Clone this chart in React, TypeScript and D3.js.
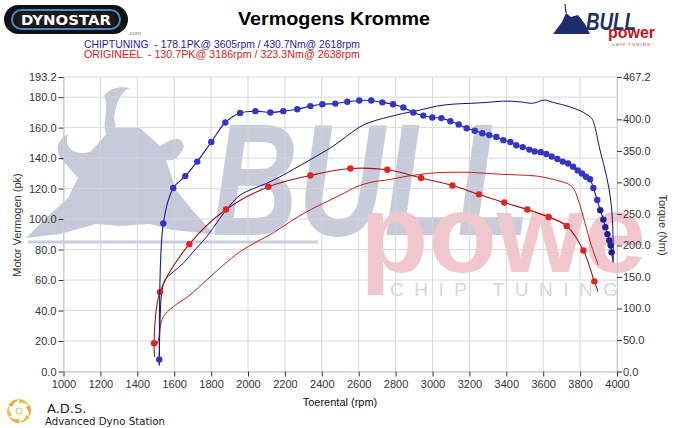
import React, { useEffect, useRef } from 'react';
import * as d3 from 'd3';

// Chiptuning torque (dotted curve), rpm / Nm
const chipTorqueRpm = [1519, 1519, 1541, 1595, 1660, 1725, 1801, 1877, 1957, 2040, 2121, 2191, 2267, 2338, 2403, 2473, 2538, 2603, 2668, 2728, 2786, 2842, 2896, 2950, 2999, 3048, 3097, 3142, 3185, 3229, 3270, 3308, 3346, 3384, 3422, 3454, 3489, 3525, 3554, 3587, 3617, 3646, 3677, 3706, 3735, 3762, 3787, 3810, 3832, 3854, 3872, 3893, 3909, 3926, 3937, 3948, 3958, 3966, 3971, 3979];
const chipTorqueNm = [10, 19, 235, 291, 310, 333, 364, 395, 410, 413, 411, 413, 416, 421, 424, 425, 428, 430, 430, 427, 424, 419, 411, 406, 403, 402, 397, 392, 386, 382, 378, 375, 372, 367, 364, 359, 356, 352, 349, 348, 345, 341, 337, 333, 330, 325, 319, 314, 309, 305, 291, 272, 256, 241, 229, 218, 208, 200, 189, 173];
// undotted points at start / end of the torque traces
const chipTorqueBare = [1, 1];

// Chiptuning power (thin), rpm / pk
const chipPowerRpm = [1519, 1521, 1525, 1530, 1550, 1595, 1649, 1703, 1776, 1848, 1902, 1957, 2029, 2101, 2173, 2246, 2318, 2390, 2462, 2535, 2607, 2661, 2752, 2842, 2932, 3023, 3113, 3203, 3294, 3384, 3474, 3546, 3605, 3655, 3745, 3817, 3863, 3875, 3908, 3944, 3966, 3977, 3980];
const chipPowerPk = [4, 22, 38, 49, 60, 65.4, 71, 78.6, 88.4, 100.5, 109, 115.7, 120, 123.4, 127.7, 132.6, 137.6, 142.6, 147.9, 154.4, 160.5, 163.5, 166.7, 169.3, 171.5, 174.1, 175.4, 175.9, 176.5, 177.4, 176.9, 176, 178.1, 176.5, 173.6, 170, 166, 162.8, 145.2, 127.7, 112.5, 95, 72];

// Origineel torque (dotted), rpm / Nm
const origTorqueRpm = [1494, 1491, 1523, 1682, 1881, 2110, 2338, 2555, 2755, 2938, 3108, 3252, 3389, 3514, 3630, 3727, 3818, 3877, 3897];
const origTorqueNm = [23, 45, 126, 202, 257, 293, 311, 322, 320, 307, 295, 281, 268, 257, 245, 231, 192, 143, 127];
const origTorqueBare = [1, 1];

// Origineel power (thin), rpm / pk
const origPowerRpm = [1508, 1520, 1523, 1541, 1595, 1686, 1776, 1866, 1957, 2047, 2137, 2228, 2318, 2408, 2499, 2589, 2679, 2752, 2842, 2932, 3023, 3113, 3186, 3294, 3384, 3474, 3565, 3655, 3754, 3790, 3827, 3863, 3899];
const origPowerPk = [18, 24, 28.3, 36, 42.5, 50.2, 60, 69.8, 78.6, 85.1, 91, 98.2, 104.8, 110.3, 115.7, 121.2, 124.5, 125.6, 127.7, 129.3, 130.4, 130.7, 130.7, 130, 129.3, 128.9, 128.2, 126, 121.6, 112.5, 97.2, 81.8, 69.8];

const rpmTicks = d3.range(1000, 4001, 200);
const pkTicks = [0, 20, 40, 60, 80, 100, 120, 140, 160, 180, 193.2];
const nmTicks = [0, 50, 100, 150, 200, 250, 300, 350, 400, 467.2];

const legendLines = [
  { text: 'CHIPTUNING  - 178.1PK@ 3605rpm / 430.7Nm@ 2618rpm', color: '#1c1ca8' },
  { text: 'ORIGINEEL  - 130.7PK@ 3186rpm / 323.3Nm@ 2638rpm', color: '#e01818' },
];

const FONT = 'Liberation Sans, Arial, sans-serif';

const App: React.FC = () => {
  const svgRef = useRef<SVGSVGElement>(null);

  useEffect(() => {
    if (!svgRef.current) return;
    const svg = d3.select(svgRef.current);
    svg.selectAll('*').remove();

    const left = 63.5, right = 617, top = 77, bottom = 371.5;
    const x = d3.scaleLinear().domain([1000, 4000]).range([left, right]);
    const yPk = d3.scaleLinear().domain([0, 193.2]).range([bottom, top]);
    const yNm = d3.scaleLinear().domain([0, 467.2]).range([bottom, top]);

    svg.append('rect').attr('width', 694).attr('height', 428).attr('fill', '#fff');

    // ---- watermark (background image in the original)
    svg.append('clipPath').attr('id', 'wmclip')
      .append('rect').attr('x', 20).attr('y', 80).attr('width', 630).attr('height', 230);
    const wm = svg.append('g').attr('clip-path', 'url(#wmclip)');
    wm.append('rect').attr('x', 28).attr('y', 240.5).attr('width', 290).attr('height', 3).attr('fill', '#c9cddb');
    wm.append('path')
      .attr('d', 'M106,134 C102,120 110,106 104,96 C110,88 120,86 130,88 C120,92 116,104 114,118 L117,132 Z')
      .attr('fill', '#c5c9d9');
    wm.append('path')
      .attr('d', 'M64,162 C54,152 56,140 68,134 C64,146 72,156 90,152 L112,128 L140,128 L160,146 C170,140 180,134 184,146 C180,158 172,162 166,160 L176,190 L194,212 L214,234 L172,230 L150,224 L120,226 L96,224 L60,234 L26,238 L46,218 L68,198 L78,178 Z')
      .attr('fill', '#c5c9d9');
    wm.append('text')
      .attr('x', 212).attr('y', 235)
      .attr('font-family', FONT).attr('font-weight', 'bold').attr('font-style', 'italic')
      .attr('font-size', 160).attr('fill', '#c8cbda')
      .attr('textLength', 318).attr('lengthAdjust', 'spacingAndGlyphs')
      .text('BULL');
    wm.append('text')
      .attr('x', 360).attr('y', 272)
      .attr('font-family', FONT).attr('font-weight', 'bold')
      .attr('font-size', 112).attr('fill', '#f2c6cd')
      .text('power');
    wm.append('text')
      .attr('x', 390).attr('y', 296)
      .attr('font-family', FONT)
      .attr('font-size', 19).attr('fill', '#d4d6df')
      .attr('textLength', 228).attr('lengthAdjust', 'spacing')
      .text('CHIP TUNING');

    // ---- grid
    const grid = svg.append('g').attr('stroke', '#d6d6d6').attr('stroke-width', 1).attr('opacity', 0.9);
    rpmTicks.forEach((t) => {
      grid.append('line').attr('x1', x(t)).attr('x2', x(t)).attr('y1', top).attr('y2', bottom);
    });
    pkTicks.forEach((t) => {
      grid.append('line').attr('x1', left).attr('x2', right).attr('y1', yPk(t)).attr('y2', yPk(t));
    });

    // ---- axes
    const styleAxis = (g: d3.Selection<SVGGElement, unknown, null, undefined>) => {
      g.select('.domain').attr('stroke', '#c8c8c8');
      g.selectAll('.tick line').attr('stroke', '#333');
      g.selectAll('.tick text').attr('fill', '#333').attr('font-family', FONT).attr('font-size', 11);
    };
    const gx = svg.append('g').attr('transform', `translate(0,${bottom})`)
      .call(d3.axisBottom(x).tickValues(rpmTicks).tickFormat(d3.format('d')).tickSize(5).tickSizeOuter(0));
    styleAxis(gx);
    gx.selectAll('.tick text').attr('dy', '0.85em').attr('y', 7);
    const gl = svg.append('g').attr('transform', `translate(${left},0)`)
      .call(d3.axisLeft(yPk).tickValues(pkTicks).tickFormat(d3.format('.1f')).tickSize(5).tickSizeOuter(0));
    styleAxis(gl);
    gl.selectAll('.tick text').attr('x', -7);
    const gr = svg.append('g').attr('transform', `translate(${right},0)`)
      .call(d3.axisRight(yNm).tickValues(nmTicks).tickFormat(d3.format('.1f')).tickSize(5).tickSizeOuter(0));
    styleAxis(gr);
    gr.selectAll('.tick text').attr('x', 6);

    // ---- curves
    const line = d3.line<[number, number]>().curve(d3.curveCatmullRom.alpha(0.5));
    const pts = (rpm: number[], v: number[], y: d3.ScaleLinear<number, number>) =>
      rpm.map((r, i) => [x(r), y(v[i])] as [number, number]);

    const thin = (rpm: number[], v: number[], color: string) => {
      svg.append('path').attr('d', line(pts(rpm, v, yPk))).attr('fill', 'none')
        .attr('stroke', color).attr('stroke-width', 1);
    };
    const dotted = (rpm: number[], v: number[], bare: number[], lineColor: string, dotColor: string, endColor: string) => {
      const p = pts(rpm, v, yNm);
      svg.append('path').attr('d', line(p)).attr('fill', 'none')
        .attr('stroke', lineColor).attr('stroke-width', 1.1);
      const dots = p.slice(bare[0], p.length - bare[1]);
      svg.append('g').selectAll('circle').data(dots).join('circle')
        .attr('cx', (d) => d[0]).attr('cy', (d) => d[1]).attr('r', 3.2)
        .attr('fill', (d, i) => (i >= dots.length - 7 ? endColor : dotColor));
    };

    thin(origPowerRpm, origPowerPk, '#c41c1c');
    thin(chipPowerRpm, chipPowerPk, '#10107a');
    dotted(origTorqueRpm, origTorqueNm, origTorqueBare, '#a81212', '#e02424', '#e02424');
    dotted(chipTorqueRpm, chipTorqueNm, chipTorqueBare, '#1c1c8a', '#3535c4', '#1e1e9a');

    // ---- axis titles
    svg.append('text').attr('transform', 'translate(21,225) rotate(-90)').attr('text-anchor', 'middle')
      .attr('font-family', FONT).attr('font-size', 11).attr('fill', '#333').text('Motor Vermogen (pk)');
    svg.append('text').attr('transform', 'translate(659,225) rotate(90)').attr('text-anchor', 'middle')
      .attr('font-family', FONT).attr('font-size', 11).attr('fill', '#333').text('Torque (Nm)');
    svg.append('text').attr('x', 340).attr('y', 406).attr('text-anchor', 'middle')
      .attr('font-family', FONT).attr('font-size', 11).attr('fill', '#111').text('Toerental (rpm)');

    // ---- header
    svg.append('text').attr('x', 334).attr('y', 25).attr('text-anchor', 'middle')
      .attr('font-family', FONT).attr('font-weight', 'bold').attr('font-size', 19).attr('fill', '#000')
      .attr('textLength', 192).attr('lengthAdjust', 'spacingAndGlyphs')
      .text('Vermogens Kromme');
    legendLines.forEach((l, i) => {
      svg.append('text').attr('x', 84).attr('y', 48 + i * 10)
        .attr('font-family', FONT).attr('font-size', 10.5).attr('fill', l.color)
        .attr('textLength', 276).attr('lengthAdjust', 'spacingAndGlyphs')
        .style('white-space', 'pre').text(l.text);
    });

    // Dynostar logo
    svg.append('rect').attr('x', 4).attr('y', 5).attr('width', 124).attr('height', 29).attr('rx', 14.5).attr('fill', '#111');
    svg.append('rect').attr('x', 12).attr('y', 10).attr('width', 108).attr('height', 19).attr('rx', 9.5)
      .attr('fill', 'none').attr('stroke', '#4a86c8').attr('stroke-width', 2);
    svg.append('rect').attr('x', 16).attr('y', 12).attr('width', 100).attr('height', 15).attr('rx', 7.5).attr('fill', '#1a1a1a');
    svg.append('text').attr('x', 66).attr('y', 25).attr('text-anchor', 'middle')
      .attr('font-family', 'DejaVu Sans, sans-serif').attr('font-weight', 'bold').attr('font-size', 14).attr('fill', '#fff')
      .attr('textLength', 90).attr('lengthAdjust', 'spacingAndGlyphs').text('DYNOSTAR');
    svg.append('text').attr('x', 128).attr('y', 35).attr('font-family', FONT).attr('font-size', 6).attr('fill', '#777').text('.com');

    // Bull power logo
    svg.append('path')
      .attr('d', 'M553,34 L562,22 L566,13 L571,17 L578,15 L585,24 L590,34 Z')
      .attr('fill', '#1f2d6e');
    svg.append('line').attr('x1', 566).attr('y1', 13).attr('x2', 565).attr('y2', 4).attr('stroke', '#1f2d6e').attr('stroke-width', 1.2);
    svg.append('text').attr('x', 586).attr('y', 30).attr('font-family', FONT).attr('font-weight', 'bold')
      .attr('font-style', 'italic').attr('font-size', 23).attr('fill', '#1f2d6e')
      .attr('textLength', 50).attr('lengthAdjust', 'spacingAndGlyphs').text('BULL');
    svg.append('text').attr('x', 608).attr('y', 38).attr('font-family', FONT).attr('font-weight', 'bold')
      .attr('font-size', 17).attr('fill', '#c8141c')
      .attr('textLength', 47).attr('lengthAdjust', 'spacingAndGlyphs').text('power');
    svg.append('text').attr('x', 612).attr('y', 45.5).attr('font-family', FONT)
      .attr('font-size', 4).attr('fill', '#c8141c')
      .attr('textLength', 38).attr('lengthAdjust', 'spacing').text('CHIP TUNING');

    // ADS logo
    const ads = svg.append('g').attr('transform', 'translate(19,411)');
    d3.range(6).forEach((k) => {
      ads.append('path')
        .attr('d', 'M0,-12 C5,-12 9,-9 10,-5 C7,-8 4,-9 0,-8 Z')
        .attr('fill', k % 2 ? '#f0a830' : '#e8c050')
        .attr('transform', `rotate(${k * 60})`);
    });
    ads.append('circle').attr('r', 3).attr('fill', 'none').attr('stroke', '#e8b040').attr('stroke-width', 0.8);
    svg.append('text').attr('x', 47).attr('y', 413).attr('font-family', 'DejaVu Sans, sans-serif')
      .attr('font-size', 13).attr('fill', '#222').text('A.D.S.');
    svg.append('text').attr('x', 45).attr('y', 425).attr('font-family', 'DejaVu Sans, sans-serif')
      .attr('font-size', 11).attr('fill', '#222')
      .attr('textLength', 120).attr('lengthAdjust', 'spacingAndGlyphs').text('Advanced Dyno Station');
  }, []);

  return (
    <svg ref={svgRef} width={694} height={428} style={{ position: 'absolute', left: 0, top: 0 }} />
  );
};

export default App;
